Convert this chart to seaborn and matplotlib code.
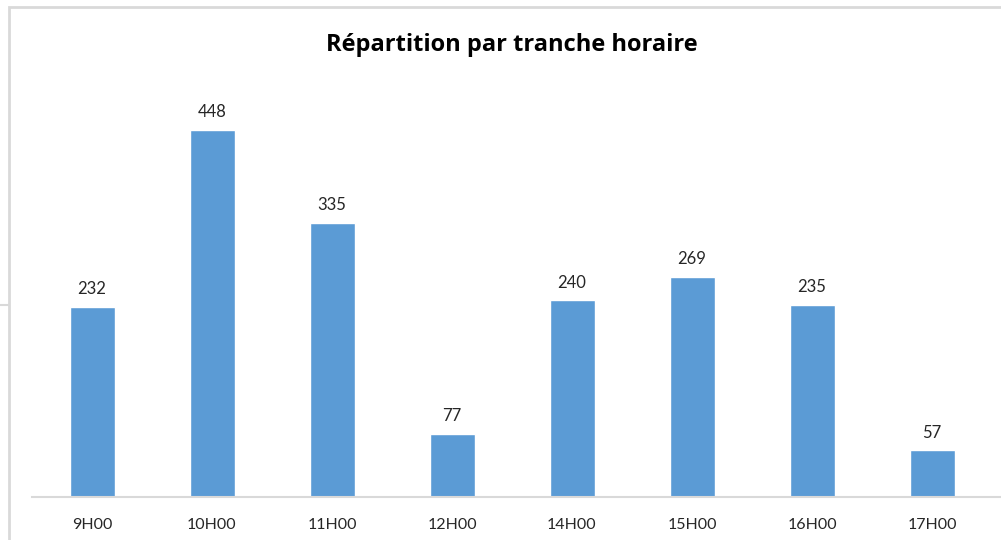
import seaborn as sns
import matplotlib.pyplot as plt
import pandas as pd
from matplotlib.patches import Rectangle
from matplotlib.lines import Line2D

# -------------- DONNEES -------------------#
tranches = ["9H00", "10H00", "11H00", "12H00", "14H00", "15H00", "16H00", "17H00"]
effectifs = [232, 448, 335, 77, 240, 269, 235, 57]
titre = "Répartition par tranche horaire"

sns.set_theme(style='white')
plt.rcParams['font.family'] = ['Lato', 'DejaVu Sans']

df = pd.DataFrame({'tranche': tranches, 'nb': effectifs})

fig = plt.figure(figsize=(10.01, 5.40), dpi=100)
ax = fig.add_axes([32 / 1001, 43 / 540, 969 / 1001, 409.5 / 540])

sns.barplot(data=df, x='tranche', y='nb', color='#5B9BD5', saturation=1,
            width=0.375, ax=ax)

# valeurs au-dessus des barres
ax.bar_label(ax.containers[0], padding=7, fontsize=12, color='#262626')

ax.set_xlim(-0.5, 7.575)
ax.set_ylim(0, 500)
ax.set_yticks([])
ax.set_xlabel('')
ax.set_ylabel('')
ax.tick_params(axis='x', length=0, labelsize=11.5, labelcolor='#262626', pad=15)
sns.despine(ax=ax, left=True, top=True, right=True)
ax.spines['bottom'].set_color('#D9D9D9')
ax.spines['bottom'].set_linewidth(1.5)

fig.text(512 / 1001, 1 - 45 / 540, titre, ha='center', va='center',
         fontsize=17, fontweight='bold', color='black',
         family=['Open Sans', 'DejaVu Sans'])

# cadre de la zone graphique
fig.patches.append(Rectangle((8.5 / 1001, -0.1), 1.2, 1 - 7.5 / 540 + 0.1,
                             transform=fig.transFigure, fill=False,
                             edgecolor='#D9D9D9', linewidth=2))
fig.lines.append(Line2D([0, 8 / 1001], [1 - 305 / 540] * 2, transform=fig.transFigure,
                        color='#D9D9D9', linewidth=1.5))

plt.savefig('out.png', dpi=100)
